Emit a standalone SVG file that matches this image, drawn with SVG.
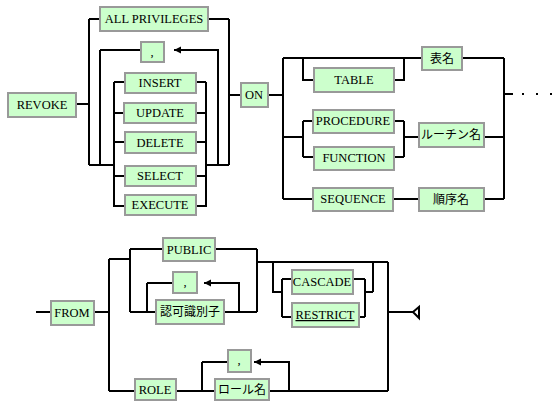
<svg xmlns="http://www.w3.org/2000/svg" width="560" height="406" viewBox="0 0 560 406">
<style>
.b{fill:#ccffcc;stroke:#999999;stroke-width:2}
.t{font-family:'Liberation Serif','Times New Roman',serif;font-size:12.5px;fill:#000;text-anchor:middle}
.j{font-family:'Noto Sans CJK JP',sans-serif;font-size:12px;fill:#000;text-anchor:middle}
.l{fill:none;stroke:#000;stroke-width:2}
</style>
<defs>
<marker id="arr" markerWidth="8" markerHeight="8" refX="7" refY="4" orient="auto" markerUnits="userSpaceOnUse"><path d="M0,0.5 L7,4 L0,7.5 z" fill="#000"/></marker>
</defs>
<rect width="560" height="406" fill="#fff"/>
<g id="connectors" class="l">
<path d="M76,104 H89 M89,19 V165 M89,19 H100 M208,19 H229 M229,19 V165"/>
<path d="M100,50 V165 M100,50 H141 M218,165 V50 H174" marker-end="url(#arr)"/>
<path d="M89,165 H114 M206,165 H229"/>
<path d="M114,82 V207 M206,82 V207"/>
<path d="M114,82 H125 M196,82 H206 M114,113 H124 M196,113 H206 M114,142 H125 M196,142 H206 M114,176 H125 M196,176 H206 M114,206 H125 M196,206 H206"/>
<path d="M229,95 H241 M268,95 H283 M283,58 V199"/>
<path d="M283,58 H422 M462,58 H504 M504,58 V199"/>
<path d="M303,58 V80 H314 M394,80 H404 V58"/>
<path d="M283,137 H303 M303,121 V157 M303,121 H313 M303,157 H314 M394,121 H404 M394,157 H404 M404,121 V157 M404,137 H419 M484,137 H504"/>
<path d="M283,199 H313 M393,199 H419 M484,199 H504"/>
<path d="M504,94 H513"/>
<path d="M36,312 H51 M94,312 H109 M109,259 V391"/>
<path d="M109,259 H130 M130,249 V312 M130,249 H163 M215,249 H257 M257,249 V312 M130,312 H156 M224,312 H257"/>
<path d="M147,283 V312 M147,283 H173 M239,312 V283 H204" marker-end="url(#arr)"/>
<path d="M257,262 H388 M388,262 V391 M388,312 H413"/>
<path d="M273,262 V292 H282 M282,279 V317 M282,279 H292 M282,317 H292 M353,279 H365 M359,317 H365 M365,279 V317 M365,292 H373 M373,262 V292"/>
<path d="M109,391 H135 M176,391 H215 M269,391 H388"/>
<path d="M202,362 V391 M202,362 H228 M289,391 V362 H254" marker-end="url(#arr)"/>
<path d="M413,312 L419,307 V318 Z" fill="#fff"/>
</g>
<g id="dots" fill="#000">
<rect x="522" y="93" width="2" height="2"/>
<rect x="536" y="93" width="2" height="2"/>
<rect x="550" y="93" width="2" height="2"/>
</g>
<g id="revoke"><rect class="b" x="8" y="93" width="68" height="24"/><text class="t" x="42" y="109">REVOKE</text></g>
<g id="allprivileges"><rect class="b" x="100" y="7" width="108" height="24"/><text class="t" x="154" y="23">ALL PRIVILEGES</text></g>
<g id="comma1"><rect class="b" x="141" y="42" width="23" height="20"/><text class="t" x="152" y="56">,</text></g>
<g id="insert"><rect class="b" x="125" y="73" width="71" height="20"/><text class="t" x="160" y="87">INSERT</text></g>
<g id="update"><rect class="b" x="124" y="103" width="72" height="20"/><text class="t" x="160" y="117">UPDATE</text></g>
<g id="delete"><rect class="b" x="125" y="132" width="71" height="21"/><text class="t" x="160" y="147">DELETE</text></g>
<g id="select"><rect class="b" x="125" y="166" width="71" height="20"/><text class="t" x="160" y="180">SELECT</text></g>
<g id="execute"><rect class="b" x="125" y="195" width="71" height="20"/><text class="t" x="160" y="209">EXECUTE</text></g>
<g id="on"><rect class="b" x="241" y="83" width="27" height="24"/><text class="t" x="254" y="99">ON</text></g>
<g id="table"><rect class="b" x="314" y="68" width="80" height="24"/><text class="t" x="354" y="84">TABLE</text></g>
<g id="hyomei"><rect class="b" x="422" y="47" width="40" height="23"/><text class="j" x="442" y="63">表名</text></g>
<g id="procedure"><rect class="b" x="313" y="110" width="81" height="23"/><text class="t" x="353" y="125">PROCEDURE</text></g>
<g id="function"><rect class="b" x="314" y="147" width="80" height="23"/><text class="t" x="354" y="162">FUNCTION</text></g>
<g id="routine"><rect class="b" x="419" y="123" width="65" height="24"/><text class="j" x="451" y="139">ルーチン名</text></g>
<g id="sequence"><rect class="b" x="313" y="188" width="80" height="23"/><text class="t" x="353" y="203">SEQUENCE</text></g>
<g id="junjo"><rect class="b" x="419" y="188" width="65" height="23"/><text class="j" x="451" y="204">順序名</text></g>
<g id="from"><rect class="b" x="51" y="301" width="43" height="24"/><text class="t" x="72" y="317">FROM</text></g>
<g id="public"><rect class="b" x="163" y="238" width="52" height="23"/><text class="t" x="189" y="254">PUBLIC</text></g>
<g id="comma2"><rect class="b" x="173" y="272" width="24" height="21"/><text class="t" x="185" y="286">,</text></g>
<g id="ninka"><rect class="b" x="156" y="300" width="68" height="24"/><text class="j" x="190" y="316">認可識別子</text></g>
<g id="cascade"><rect class="b" x="292" y="270" width="61" height="24"/><text class="t" x="322" y="286">CASCADE</text></g>
<g id="restrict"><rect class="b" x="292" y="303" width="67" height="24"/><text class="t" x="325" y="319" text-decoration="underline">RESTRICT</text></g>
<g id="role"><rect class="b" x="135" y="379" width="41" height="21"/><text class="t" x="155" y="394">ROLE</text></g>
<g id="comma3"><rect class="b" x="228" y="350" width="23" height="22"/><text class="t" x="239" y="364">,</text></g>
<g id="rolename"><rect class="b" x="215" y="379" width="54" height="21"/><text class="j" x="242" y="394">ロール名</text></g>
</svg>
